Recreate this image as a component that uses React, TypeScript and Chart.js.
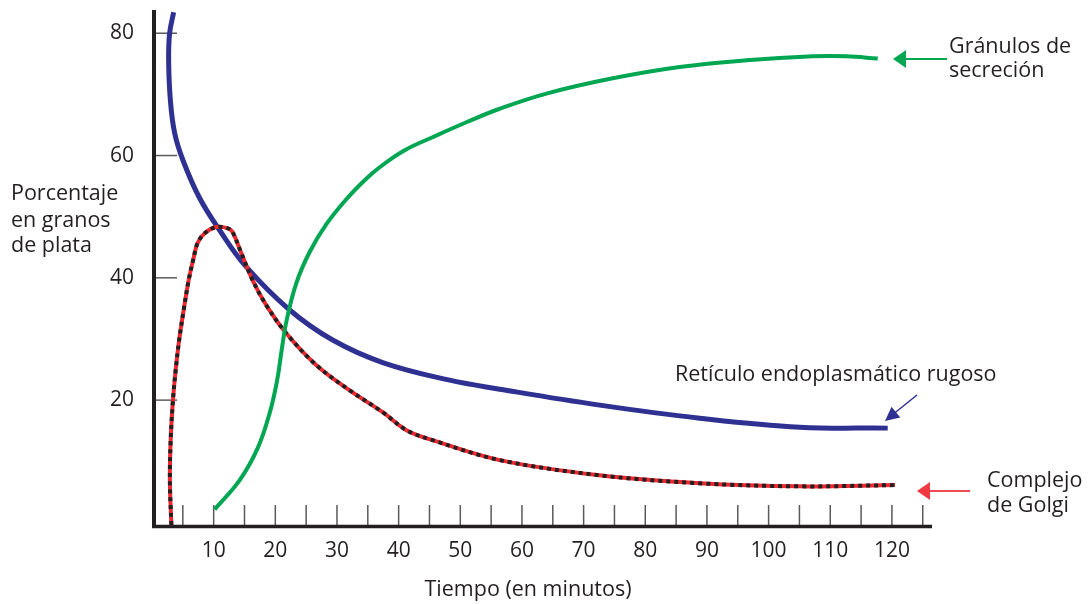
import React, { useEffect, useRef } from "react";
import { Chart, registerables } from "chart.js";

Chart.register(...registerables);

// Tick labels / marks
const xTickLabels = [10, 20, 30, 40, 50, 60, 70, 80, 90, 100, 110, 120];
const xTickMarks = [5, 10, 15, 20, 25, 30, 35, 40, 45, 50, 55, 60, 65, 70, 75, 80, 85, 90, 95, 100, 105, 110, 115, 120, 125];
const yTickLabels = [20, 40, 60, 80];

// Retículo endoplasmático rugoso (blue)
const reticuloX = [3.51, 2.86, 2.7, 2.98, 3.68, 5.02, 7.65, 10.97, 15.3, 22.33, 29.3, 37.41, 48.28, 56.39, 72.61, 88.83, 105.05, 119.32];
const reticuloY = [83.42, 79.99, 75.58, 69.04, 63.64, 59.23, 53.18, 47.78, 41.78, 34.74, 29.83, 26.15, 23.26, 21.79, 19.18, 17.05, 15.58, 15.42];

// Complejo de Golgi (red / black dotted)
const golgiX = [3.14, 2.9, 3.03, 3.4, 3.84, 4.4, 5.13, 5.94, 6.67, 7.4, 8.54, 10.4, 12.3, 13.06, 14.49, 16.33, 18.55, 21.8, 26.66, 32.06, 37.41, 41.26, 45.52, 56.39, 72.6, 88.8, 105.0, 120.5];
const golgiY = [-0.44, 6.9, 13.5, 20.0, 24.9, 29.8, 34.7, 39.6, 42.9, 45.7, 47.3, 48.3, 48.1, 47.5, 44.02, 39.6, 35.5, 30.9, 25.72, 21.6, 18.03, 15.09, 13.45, 10.19, 7.7, 6.4, 5.9, 6.1];

// Gránulos de secreción (green)
const granulosX = [10.16, 14.22, 17.14, 19.08, 20.3, 21.03, 21.84, 23.41, 25.57, 28.28, 31.52, 34.49, 36.92, 40.98, 45.5, 50.99, 56.39, 63.97, 74.72, 85.56, 96.4, 107.16, 112.6, 117.7];
const granulosY = [2.13, 6.92, 12.15, 17.87, 23.27, 28.18, 33.08, 39.15, 44.22, 48.77, 52.85, 55.96, 58.08, 60.86, 62.99, 65.44, 67.65, 70.13, 72.63, 74.48, 75.58, 76.23, 76.23, 75.85];

const zip = (xs: number[], ys: number[]) => xs.map((x, i) => ({ x, y: ys[i] }));

const FONT = "'Open Sans', 'Liberation Sans', sans-serif";
const TEXT = "#231f20";
const BLUE = "#2e3192";
const GREEN = "#00a651";
const RED = "#ec2830";

const decor = {
  id: "decor",
  beforeDatasetsDraw(chart: any) {
    const { ctx, chartArea } = chart;
    const xs = chart.scales.x;
    const ys = chart.scales.y;
    const { left, right, top, bottom } = chartArea;
    ctx.save();
    ctx.strokeStyle = "#5a5a5a";
    ctx.lineWidth = 1.5;
    yTickLabels.forEach((v) => {
      const py = ys.getPixelForValue(v);
      ctx.beginPath();
      ctx.moveTo(left + 2, py);
      ctx.lineTo(left + 25, py);
      ctx.stroke();
    });
    xTickMarks.forEach((v) => {
      const px = xs.getPixelForValue(v);
      ctx.beginPath();
      ctx.moveTo(px, bottom - 22);
      ctx.lineTo(px, bottom);
      ctx.stroke();
    });
    ctx.strokeStyle = TEXT;
    ctx.lineWidth = 4;
    ctx.beginPath();
    ctx.moveTo(left + 2, top);
    ctx.lineTo(left + 2, bottom + 1);
    ctx.stroke();
    ctx.lineWidth = 3.5;
    ctx.beginPath();
    ctx.moveTo(left, bottom - 0.5);
    ctx.lineTo(right, bottom - 0.5);
    ctx.stroke();
    ctx.restore();
  },
  afterDraw(chart: any) {
    const { ctx } = chart;
    ctx.save();
    ctx.fillStyle = TEXT;
    ctx.font = `21.5px ${FONT}`;
    ctx.textBaseline = "alphabetic";
    ctx.textAlign = "left";
    ctx.fillText("Porcentaje", 11, 200);
    ctx.fillText("en granos", 11, 226.5);
    ctx.fillText("de plata", 11, 252);
    ctx.textAlign = "center";
    ctx.fillText("Tiempo (en minutos)", 528, 596);
    ctx.textAlign = "left";
    ctx.fillText("Gránulos de", 949, 53);
    ctx.fillText("secreción", 949, 77);
    ctx.fillText("Retículo endoplasmático rugoso", 675, 381);
    ctx.fillText("Complejo", 987, 487);
    ctx.fillText("de Golgi", 987, 512);

    // green arrow
    ctx.fillStyle = GREEN;
    ctx.strokeStyle = GREEN;
    ctx.lineWidth = 2;
    ctx.beginPath();
    ctx.moveTo(904, 59);
    ctx.lineTo(947, 59);
    ctx.stroke();
    ctx.beginPath();
    ctx.moveTo(893, 59);
    ctx.lineTo(906, 50);
    ctx.lineTo(906, 68);
    ctx.closePath();
    ctx.fill();

    // red arrow
    ctx.fillStyle = "#ee3a40";
    ctx.strokeStyle = "#ee4a50";
    ctx.beginPath();
    ctx.moveTo(928, 491);
    ctx.lineTo(970, 491);
    ctx.stroke();
    ctx.beginPath();
    ctx.moveTo(917, 491);
    ctx.lineTo(930, 482);
    ctx.lineTo(930, 500);
    ctx.closePath();
    ctx.fill();

    // blue arrow
    ctx.fillStyle = BLUE;
    ctx.strokeStyle = BLUE;
    ctx.lineWidth = 1.5;
    ctx.beginPath();
    ctx.moveTo(917, 395);
    ctx.lineTo(894, 413.5);
    ctx.stroke();
    ctx.beginPath();
    ctx.moveTo(885, 421);
    ctx.lineTo(900.3, 417.6);
    ctx.lineTo(891.5, 406.8);
    ctx.closePath();
    ctx.fill();
    ctx.restore();
  },
};

export default function App() {
  const ref = useRef<HTMLCanvasElement | null>(null);
  useEffect(() => {
    if (!ref.current) return;
    const chart = new Chart(ref.current, {
      type: "line",
      data: {
        datasets: [
          {
            label: "Gránulos de secreción",
            data: zip(granulosX, granulosY),
            borderColor: GREEN,
            borderWidth: 4,
            pointRadius: 0,
            tension: 0.4,
            fill: false,
            clip: false as any,
            order: 0,
          },
          {
            label: "Complejo de Golgi (puntos)",
            data: zip(golgiX, golgiY),
            borderColor: TEXT,
            borderWidth: 4,
            borderDash: [4, 4],
            pointRadius: 0,
            tension: 0.35,
            fill: false,
            clip: false as any,
            order: 1,
          },
          {
            label: "Complejo de Golgi",
            data: zip(golgiX, golgiY),
            borderColor: RED,
            borderWidth: 4,
            pointRadius: 0,
            tension: 0.35,
            fill: false,
            clip: false as any,
            order: 2,
          },
          {
            label: "Retículo endoplasmático rugoso",
            data: zip(reticuloX, reticuloY),
            borderColor: BLUE,
            borderWidth: 5,
            pointRadius: 0,
            tension: 0.4,
            fill: false,
            clip: false as any,
            order: 3,
          },
        ],
      },
      options: {
        animation: false,
        responsive: false,
        devicePixelRatio: 1,
        layout: { padding: { left: 0, right: 157, top: 10, bottom: 0 } },
        plugins: { legend: { display: false }, tooltip: { enabled: false }, title: { display: false } },
        events: [],
        scales: {
          x: {
            type: "linear",
            min: 0,
            max: 126.5,
            grid: { display: false, drawTicks: false },
            border: { display: false },
            afterBuildTicks: (axis: any) => {
              axis.ticks = xTickLabels.map((v) => ({ value: v }));
            },
            afterFit: (axis: any) => {
              axis.height = 77;
              axis.paddingLeft = 0;
              axis.paddingRight = 0;
            },
            ticks: {
              autoSkip: false,
              maxRotation: 0,
              padding: 11,
              color: TEXT,
              font: { family: FONT, size: 21 },
            },
          },
          y: {
            type: "linear",
            min: -0.75,
            max: 83.8,
            grid: { display: false, drawTicks: false },
            border: { display: false },
            afterBuildTicks: (axis: any) => {
              axis.ticks = yTickLabels.map((v) => ({ value: v }));
            },
            afterFit: (axis: any) => {
              axis.width = 152;
              axis.paddingTop = 0;
              axis.paddingBottom = 0;
            },
            ticks: {
              autoSkip: false,
              padding: 18,
              color: TEXT,
              font: { family: FONT, size: 21 },
            },
          },
        },
      },
      plugins: [decor],
    });
    return () => chart.destroy();
  }, []);
  return (
    <div style={{ position: "absolute", left: 0, top: 0, width: 1089, height: 604, background: "#fff" }}>
      <canvas ref={ref} width={1089} height={604} style={{ display: "block" }} />
    </div>
  );
}
